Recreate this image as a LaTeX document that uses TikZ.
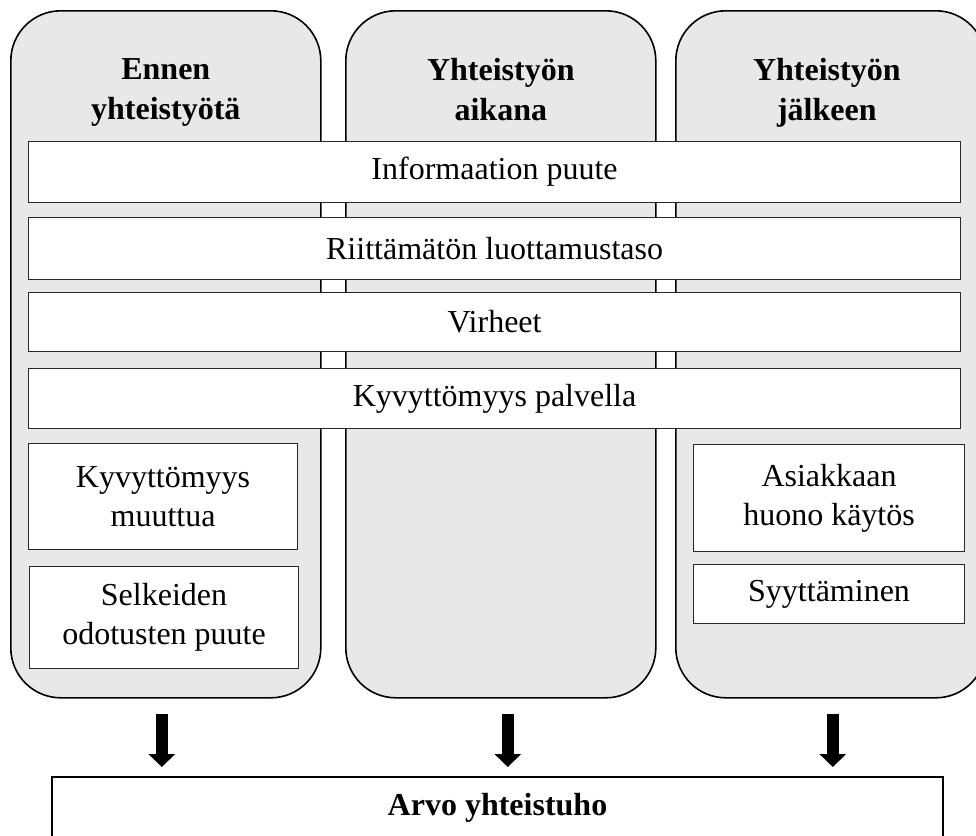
\documentclass[tikz,border=0pt]{standalone}
\usepackage{fontspec}
\setmainfont{Liberation Serif}
\usetikzlibrary{arrows.meta}
\definecolor{phasegray}{RGB}{232,232,232}
\definecolor{edgegray}{RGB}{40,40,40}
\begin{document}
\begin{tikzpicture}[x=1pt,y=-1pt,
  phase/.style={draw=black, line width=1.6pt, fill=phasegray, rounded corners=50pt,
    anchor=north west, minimum width=310pt, minimum height=687pt, inner sep=0pt},
  head/.style={font=\bfseries\fontsize{32}{40}\selectfont, align=center, anchor=north},
  cause/.style={draw=edgegray, line width=1.1pt, fill=white, align=center, anchor=north west,
    inner sep=0pt, font=\fontsize{32}{39}\selectfont},
  bigarrow/.style={line width=12pt, -{Triangle[width=26pt,length=13pt]}},
]
\clip (0,0) rectangle (976,835);

% three phases of the collaboration
\node[phase] (c1) at (10,10) {};
\node[phase] (c2) at (345,10) {};
\node[phase] (c3) at (675,10) {};

\node[head] (h1) at ([yshift=-45pt]c1.north) {Ennen\\yhteistyötä};
\node[head] (h2) at ([yshift=-45pt]c2.north) {Yhteistyön\\aikana};
\node[head] (h3) at ([yshift=-45pt,xshift=-4pt]c3.north) {Yhteistyön\\jälkeen};

% causes spanning all phases
\node[cause, minimum width=932pt, minimum height=61pt] (b1) at (28,141) {Informaation puute};
\node[cause, minimum width=932pt, minimum height=62pt] (b2) at (28,217) {Riittämätön luottamustaso};
\node[cause, minimum width=932pt, minimum height=59pt] (b3) at (28,292) {Virheet};
\node[cause, minimum width=932pt, minimum height=60pt] (b4) at (28,368) {Kyvyttömyys palvella};

% causes specific to one phase
\node[cause, minimum width=269pt, minimum height=106pt] (l1) at (28,443) {Kyvyttömyys\\muuttua};
\node[cause, minimum width=269pt, minimum height=102pt] (l2) at (29,566) {Selkeiden\\odotusten puute};
\node[cause, minimum width=271pt, minimum height=107pt] (r1) at (693,444) {Asiakkaan\\huono käytös};
\node[cause, minimum width=271pt, minimum height=59pt] (r2) at (693,564) {Syyttäminen};

% outcome
\node[draw=black, line width=2pt, fill=white, anchor=north, inner sep=0pt,
  minimum width=891pt, text height=38pt, text depth=80pt,
  font=\bfseries\fontsize{32}{38}\selectfont] (out) at (497.5,776) {Arvo yhteistuho};

% every phase feeds the outcome
\draw[bigarrow] ([xshift=-4pt,yshift=-15pt]c1.south) -- ([xshift=-4pt,yshift=9pt]c1.south |- out.north);
\draw[bigarrow] ([xshift=7pt,yshift=-15pt]c2.south) -- ([xshift=7pt,yshift=9pt]c2.south |- out.north);
\draw[bigarrow] ([xshift=2pt,yshift=-15pt]c3.south) -- ([xshift=2pt,yshift=9pt]c3.south |- out.north);
\end{tikzpicture}
\end{document}
